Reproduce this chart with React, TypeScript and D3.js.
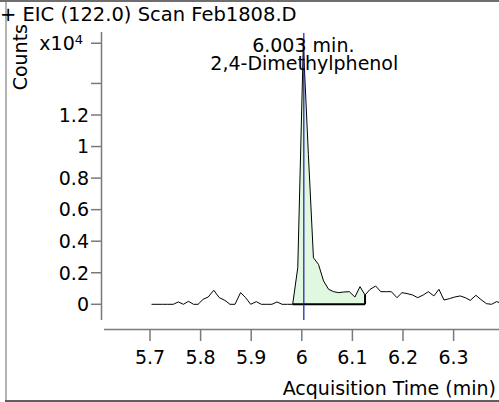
import React from "react";
import * as d3 from "d3";

const times = [
  5.703, 5.714, 5.725, 5.735, 5.746, 5.756, 5.766, 5.776, 5.786, 5.795,
  5.805, 5.815, 5.826, 5.837, 5.848, 5.858, 5.868, 5.879, 5.889, 5.899,
  5.91, 5.92, 5.931, 5.941, 5.951, 5.961, 5.972, 5.982, 5.992, 6.003,
  6.013, 6.023, 6.033, 6.043, 6.053, 6.063, 6.073, 6.083, 6.094, 6.105,
  6.115, 6.125, 6.135, 6.146, 6.156, 6.167, 6.177, 6.188, 6.198, 6.208,
  6.219, 6.229, 6.24, 6.25, 6.261, 6.271, 6.281, 6.292, 6.302, 6.313,
  6.323, 6.333, 6.344, 6.354, 6.365, 6.375, 6.385, 6.396,
];
// counts in units of 10^4
const counts = [
  0, 0, 0, 0, 0, 0.015, 0, 0.019, 0, 0,
  0.032, 0.046, 0.089, 0.042, 0.025, 0, 0, 0.074, 0.042, 0,
  0.017, 0, 0, 0, 0.015, 0, 0, 0, 0.232, 1.65,
  0.95, 0.295, 0.253, 0.148, 0.095, 0.08, 0.074, 0.078, 0.08, 0.046,
  0.112, 0.059, 0.095, 0.116, 0.08, 0.08, 0.08, 0.042, 0.074, 0.068,
  0.059, 0.042, 0.059, 0.08, 0.053, 0.095, 0.027, 0.036, 0.046, 0.053,
  0.042, 0.025, 0.057, 0.03, 0.004, 0, 0.017, 0.004,
];

const yTicks = [0, 0.2, 0.4, 0.6, 0.8, 1, 1.2, 1.4];
const yTickLabels = ["0", "0.2", "0.4", "0.6", "0.8", "1", "1.2", ""];
const xTicks = [5.7, 5.8, 5.9, 6, 6.1, 6.2, 6.3];
const xTickLabels = ["5.7", "5.8", "5.9", "6", "6.1", "6.2", "6.3"];
const yTopValue = 1.655;

const peakTime = 6.003;
const integStart = 5.982;
const integEnd = 6.125;

const titleText = "+ EIC (122.0) Scan Feb1808.D";
const peakLabel1 = "6.003 min.";
const peakLabel2 = "2,4-Dimethylphenol";
const yTitle = "Counts";
const xTitle = "Acquisition Time (min)";

const FONT = "'DejaVu Sans', Verdana, sans-serif";

export default function App() {
  const W = 499;
  const H = 402;
  const x = d3.scaleLinear().domain([5.7, 6.3]).range([150, 453.6]);
  const y = d3.scaleLinear().domain([0, 1.2]).range([304.3, 115]);

  const data = times.map((t, i) => ({ t, v: counts[i] }));
  const line = d3
    .line<{ t: number; v: number }>()
    .x((d) => x(d.t))
    .y((d) => y(d.v));
  const area = d3
    .area<{ t: number; v: number }>()
    .x((d) => x(d.t))
    .y0(y(0))
    .y1((d) => y(d.v));
  const integ = data.filter((d) => d.t >= integStart - 1e-9 && d.t <= integEnd + 1e-9);
  const endVal = integ[integ.length - 1].v;

  const axisColor = "#7a7a7a";

  return (
    <svg
      width={W}
      height={H}
      style={{ position: "absolute", left: 0, top: 0, background: "#fff" }}
      fontFamily={FONT}
    >
      <rect x={0} y={0} width={W} height={H} fill="#fff" />
      {/* frame */}
      <rect x={5} y={0} width={2} height={402} fill="#b4b4b4" />
      <rect x={0} y={0} width={W} height={2} fill="#6e6e6e" />
      <rect x={5} y={400} width={W} height={2} fill="#5e5e5e" />

      {/* title */}
      <text x={0} y={21} fontSize={19.5} fill="#000">
        {titleText}
      </text>

      {/* y axis */}
      <line x1={101.5} x2={101.5} y1={32} y2={320} stroke={axisColor} strokeWidth={1.5} />
      {yTicks.map((v, i) => (
        <g key={"yt" + i}>
          <line x1={91} x2={101} y1={y(v)} y2={y(v)} stroke={axisColor} strokeWidth={1.5} />
          {yTickLabels[i] && (
            <text x={89} y={y(v)} dy="0.36em" textAnchor="end" fontSize={19} fill="#000">
              {yTickLabels[i]}
            </text>
          )}
        </g>
      ))}
      <line x1={91} x2={101} y1={y(yTopValue)} y2={y(yTopValue)} stroke={axisColor} strokeWidth={1.5} />
      <text x={83} y={y(yTopValue)} dy="0.36em" textAnchor="end" fontSize={19} fill="#000">
        x10<tspan dy="-0.45em" fontSize={13}>4</tspan>
      </text>
      <text
        transform={`translate(27,24) rotate(-90)`}
        textAnchor="end"
        fontSize={19}
        fill="#000"
      >
        {yTitle}
      </text>

      {/* x axis */}
      <line x1={104} x2={W + 5} y1={329.5} y2={329.5} stroke={axisColor} strokeWidth={1.5} />
      {xTicks.map((t, i) => (
        <g key={"xt" + i}>
          <line x1={x(t)} x2={x(t)} y1={330} y2={341} stroke={axisColor} strokeWidth={1.5} />
          <text x={x(t)} y={364} textAnchor="middle" fontSize={19} fill="#000">
            {xTickLabels[i]}
          </text>
        </g>
      ))}
      <text x={496} y={395} textAnchor="end" fontSize={19} fill="#000">
        {xTitle}
      </text>

      {/* integration */}
      <path d={area(integ) || ""} fill="#e0f8e0" stroke="none" />
      <line x1={x(integStart)} x2={x(integEnd)} y1={y(0)} y2={y(0)} stroke="#000" strokeWidth={2} />
      <line x1={x(integEnd)} x2={x(integEnd)} y1={y(0)} y2={y(endVal)} stroke="#000" strokeWidth={2} />

      {/* trace */}
      <path d={line(data) || ""} fill="none" stroke="#000" strokeWidth={1} strokeLinejoin="miter" />

      {/* peak marker */}
      <line x1={x(peakTime) + 0.5} x2={x(peakTime) + 0.5} y1={33} y2={320} stroke="#1a1aa8" strokeWidth={1.2} />
      <text x={x(peakTime)} y={52} textAnchor="middle" fontSize={19} fill="#000">
        {peakLabel1}
      </text>
      <text x={x(peakTime) + 1} y={70} textAnchor="middle" fontSize={19} fill="#000">
        {peakLabel2}
      </text>
    </svg>
  );
}
